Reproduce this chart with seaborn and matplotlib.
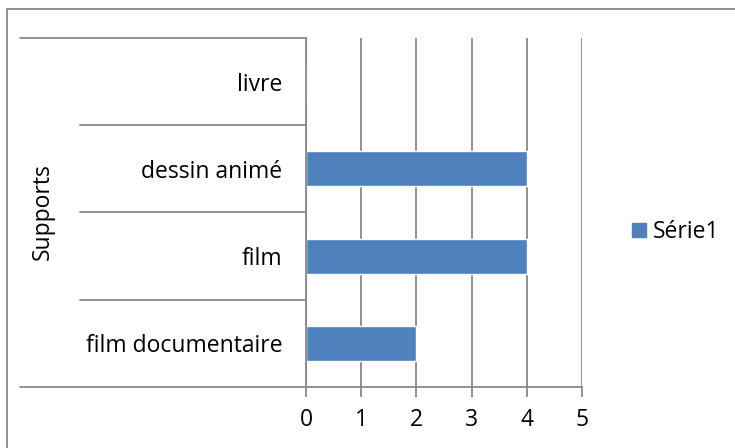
import matplotlib
matplotlib.use("Agg")
import matplotlib.pyplot as plt
import matplotlib.transforms as mtransforms
from matplotlib.patches import Rectangle, Patch
import pandas as pd
import seaborn as sns

# Data (top to bottom as shown)
supports = ["livre", "dessin animé", "film", "film documentaire"]
valeurs = [0, 4, 4, 2]
serie = "Série1"
x_ticks = [0, 1, 2, 3, 4, 5]

df = pd.DataFrame({"Supports": supports, "Valeur": valeurs})

sns.set_style("white")
plt.rcParams["font.family"] = ["Open Sans", "DejaVu Sans"]
plt.rcParams["text.color"] = "black"

GRID = "#888888"
BAR = "#4F81BD"
FS = 16.5

fig = plt.figure(figsize=(7.35, 4.48), dpi=100)
ax = fig.add_axes([306 / 735, 1 - 387 / 448, 276 / 735, 349 / 448])

sns.barplot(data=df, x="Valeur", y="Supports", order=supports,
            color=BAR, width=0.4, saturation=1, ax=ax)

ax.set_xlim(0, 5)
ax.set_ylim(len(supports) - 0.5, -0.5)
ax.set_xticks(x_ticks)
ax.set_xticklabels([str(t) for t in x_ticks], fontsize=FS, color="black")
ax.set_yticks(range(len(supports)))
ax.set_yticklabels(supports, fontsize=FS, color="black")
ax.set_xlabel("")
ax.set_ylabel("")

ax.xaxis.grid(True, color=GRID, linewidth=1.3)
ax.set_axisbelow(True)
for side in ["top", "right"]:
    ax.spines[side].set_visible(False)
for side in ["left", "bottom"]:
    ax.spines[side].set_color(GRID)
    ax.spines[side].set_linewidth(1.3)

ax.tick_params(axis="x", length=7, width=1.3, color=GRID, pad=8, bottom=True)
ax.tick_params(axis="y", length=0, pad=17)

# category separators extending to the left of the plot
trans = mtransforms.blended_transform_factory(ax.transAxes, ax.transData)
n = len(supports)
for i in range(n + 1):
    y = i - 0.5
    x0 = -286 / 276 if i in (0, n) else -226 / 276
    ax.plot([x0, 0], [y, y], color=GRID, linewidth=1.3, transform=trans,
            clip_on=False)

fig.text(43 / 735, 1 - 212 / 448, "Supports", rotation=90, fontsize=FS,
         ha="center", va="center", color="black")

# legend
handle = Patch(facecolor=BAR, edgecolor=BAR)
leg = fig.legend([handle], [serie], loc="center left",
                 bbox_to_anchor=(632 / 735, 1 - 232 / 448), frameon=False,
                 fontsize=FS, handlelength=0.6, handleheight=0.6,
                 handletextpad=0.3, borderpad=0, borderaxespad=0)
for t in leg.get_texts():
    t.set_color("black")

# chart border
fig.patches.append(Rectangle((7 / 735, -0.1), 1.0, 1 - 9 / 448 + 0.1,
                             transform=fig.transFigure, fill=False,
                             edgecolor=GRID, linewidth=1.3))

fig.savefig("out.png", dpi=100)
